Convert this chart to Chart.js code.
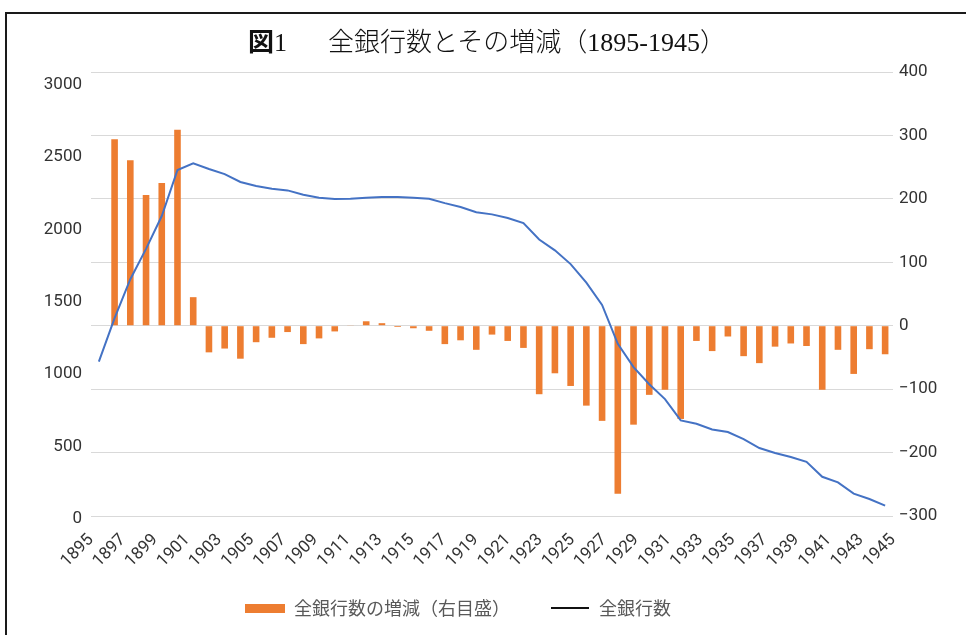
<!DOCTYPE html>
<html>
<head>
<meta charset="utf-8">
<script src="https://cdn.jsdelivr.net/npm/chart.js@4.4.0/dist/chart.umd.min.js"></script>
<style>
html,body{margin:0;padding:0;width:966px;height:635px;overflow:hidden;background:#fff;}
#wrap{position:relative;width:966px;height:635px;}
canvas{position:absolute;left:0;top:0;}
#frame{position:absolute;left:5px;top:12px;width:990px;height:660px;border:2px solid #1a1a1a;box-sizing:border-box;pointer-events:none;}
#title{position:absolute;left:248px;top:27px;font-family:"Liberation Serif","Noto Sans CJK JP",serif;font-size:26px;line-height:32px;color:#111;white-space:nowrap;font-weight:300;}
#title b{font-weight:700;}
#title .gap{display:inline-block;width:41px;}
</style>
</head>
<body>
<div id="wrap">
<canvas id="c" width="966" height="635"></canvas>
<div id="frame"></div>
<div id="title"><b>図</b>1<span class="gap"></span>全銀行数とその増減（1895-1945）</div>
</div>
<script>
// ---- data ----
const years = ['1895','1896','1897','1898','1899','1900','1901','1902','1903','1904',
  '1905','1906','1907','1908','1909','1910','1911','1912','1913','1914',
  '1915','1916','1917','1918','1919','1920','1921','1922','1923','1924',
  '1925','1926','1927','1928','1929','1930','1931','1932','1933','1934',
  '1935','1936','1937','1938','1939','1940','1941','1942','1943','1944','1945'];

// 全銀行数の増減 (right axis)
const bankChanges = [null, 294, 261, 206, 225, 309, 45, -42, -36, -52,
  -26, -19, -10, -29, -20, -9, 1, 7, 4, -2,
  -4, -8, -29, -23, -38, -14, -24, -35, -108, -75,
  -95, -126, -150, -265, -156, -109, -101, -147, -24, -40,
  -17, -48, -59, -33, -28, -32, -101, -38, -76, -37, -45];

// 全銀行数 (left axis)
const bankTotals = [1043, 1337, 1600, 1805, 2027, 2338, 2383, 2345, 2310, 2257,
  2230, 2211, 2200, 2171, 2151, 2142, 2143, 2150, 2155, 2155,
  2151, 2143, 2114, 2088, 2052, 2038, 2014, 1979, 1868, 1795,
  1702, 1577, 1426, 1163, 1006, 890, 790, 646, 623, 585,
  567, 519, 459, 426, 399, 366, 265, 227, 151, 115, 70];

const leftTickValues = [0, 500, 1000, 1500, 2000, 2500, 3000];
const rightTickValues = [-300, -200, -100, 0, 100, 200, 300, 400];

const barLabel = '全銀行数の増減（右目盛）';
const lineLabel = '全銀行数';

const ORANGE = '#ED7D31';
const BLUE = '#4472C4';
const TICK_COLOR = '#333333';
const tickFont = {family: 'Roboto, "Liberation Sans", sans-serif', size: 17};

function swatch(w, h, color) {
  const c = document.createElement('canvas');
  c.width = w; c.height = h;
  const g = c.getContext('2d');
  g.fillStyle = color; g.fillRect(0, 0, w, h);
  return c;
}
const barSwatch = swatch(40, 9, ORANGE);
const lineSwatch = swatch(38, 2, '#111111');

const minus = v => (v < 0 ? '\u2212' + Math.abs(v) : String(v));

// move the legend block to where the reference has it
const legendPlace = {
  id: 'legendPlace',
  afterLayout(chart) {
    const lg = chart.legend;
    if (!lg) return;
    const dx = -25, dy = -15;
    lg.left += dx; lg.right += dx;
    lg.top += dy; lg.bottom += dy;
  }
};

new Chart(document.getElementById('c'), {
  type: 'bar',
  data: {
    labels: years,
    datasets: [
      {
        type: 'bar',
        label: barLabel,
        data: bankChanges,
        xAxisID: 'x',
        yAxisID: 'y1',
        backgroundColor: ORANGE,
        borderWidth: 0,
        categoryPercentage: 1.0,
        barPercentage: 0.42,
        order: 1
      },
      {
        type: 'line',
        label: lineLabel,
        data: bankTotals,
        xAxisID: 'x',
        yAxisID: 'y',
        borderColor: BLUE,
        borderWidth: 2,
        pointRadius: 0,
        tension: 0,
        fill: false,
        order: 0
      }
    ]
  },
  plugins: [legendPlace],
  options: {
    responsive: false,
    animation: false,
    devicePixelRatio: 1,
    layout: {padding: {top: 72, right: 0, bottom: 0, left: 0}},
    plugins: {
      title: {display: false},
      tooltip: {enabled: false},
      legend: {
        position: 'bottom',
        align: 'center',
        maxHeight: 61,
        labels: {
          usePointStyle: true,
          pointStyleWidth: 40,
          boxHeight: 9,
          padding: 40,
          color: '#595959',
          font: {family: '"Noto Sans CJK JP", sans-serif', size: 18},
          generateLabels: chart => chart.data.datasets.map((ds, i) => ({
            text: ds.label,
            pointStyle: i === 0 ? barSwatch : lineSwatch,
            fillStyle: i === 0 ? ORANGE : '#111111',
            strokeStyle: i === 0 ? ORANGE : '#111111',
            lineWidth: 0,
            hidden: false,
            datasetIndex: i,
            fontColor: '#595959'
          }))
        }
      }
    },
    scales: {
      x: {
        type: 'category',
        display: false,
        offset: true
      },
      xLbl: {
        type: 'category',
        position: 'bottom',
        labels: years,
        offset: false,
        grid: {display: false, drawTicks: false},
        border: {display: false},
        ticks: {
          autoSkip: false,
          maxRotation: 45,
          minRotation: 45,
          padding: 14,
          labelOffset: 0,
          color: TICK_COLOR,
          font: tickFont,
          callback: (v, i) => (i % 2 === 0 ? years[i] : '')
        },
        afterFit: s => { s.height = 58; }
      },
      y: {
        display: false,
        position: 'left',
        min: 0,
        max: 3000
      },
      yLbl: {
        position: 'left',
        min: 20.7,
        max: 3088,
        grid: {display: false, drawTicks: false},
        border: {display: false},
        afterBuildTicks: s => { s.ticks = leftTickValues.map(v => ({value: v})); },
        ticks: {
          padding: 9,
          color: TICK_COLOR,
          font: tickFont,
          callback: v => String(v)
        },
        afterFit: s => { s.width = 91; }
      },
      y1: {
        position: 'right',
        min: -300,
        max: 400,
        grid: {color: '#d9d9d9', lineWidth: 1, drawTicks: false},
        border: {display: false},
        afterBuildTicks: s => { s.ticks = rightTickValues.map(v => ({value: v})); },
        ticks: {
          padding: 6,
          color: TICK_COLOR,
          font: tickFont,
          callback: v => minus(v)
        },
        afterFit: s => { s.width = 73; }
      }
    }
  }
});
</script>
</body>
</html>
